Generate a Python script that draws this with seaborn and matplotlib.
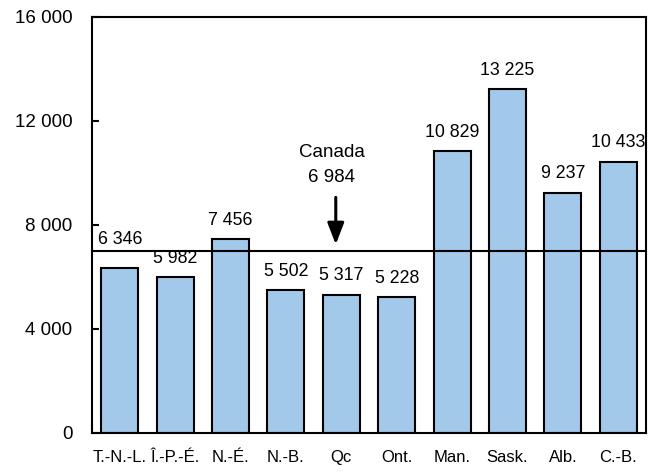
import pandas as pd
import seaborn as sns
import matplotlib.pyplot as plt

provinces = ["T.-N.-L.", "Î.-P.-É.", "N.-É.", "N.-B.", "Qc", "Ont.", "Man.", "Sask.", "Alb.", "C.-B."]
values = [6346, 5982, 7456, 5502, 5317, 5228, 10829, 13225, 9237, 10433]
canada = 6984
yticks = [0, 4000, 8000, 12000, 16000]

df = pd.DataFrame({"province": provinces, "value": values})

sns.set_style("white")
plt.rcParams["font.family"] = ["Liberation Sans", "DejaVu Sans"]
plt.rcParams["text.color"] = "black"
plt.rcParams["xtick.color"] = "black"
plt.rcParams["ytick.color"] = "black"

fig = plt.figure(figsize=(6.53, 4.73), dpi=100)
ax = fig.add_axes([0.1409, 0.0846, 0.8484, 0.8795])

sns.barplot(data=df, x="province", y="value", color="#a3c9ea", saturation=1,
            width=0.67, edgecolor="black", linewidth=1.5, ax=ax)

ax.axhline(canada, color="black", lw=1.5, zorder=3)

def fmt(v):
    return f"{v:,}".replace(",", " ")

for i, v in enumerate(values):
    off = 14.5 if i == 0 else 7.5
    ax.annotate(fmt(v), (i, v), xytext=(0, off), textcoords="offset points",
                ha="center", va="bottom", fontsize=12.8)

ax.text(3.83, 10800, "Canada", ha="center", va="center", fontsize=13.5)
ax.text(3.83, 9820, fmt(canada), ha="center", va="center", fontsize=13.5)
ax.annotate("", xy=(3.9, 7250), xytext=(3.9, 9060),
            arrowprops=dict(arrowstyle="-|>,head_width=0.5,head_length=1.3",
                            color="black", lw=2.2, shrinkA=0, shrinkB=0))

ax.set_xlim(-0.5, 9.5)
ax.set_ylim(0, 16000)
ax.set_yticks(yticks)
ax.set_yticklabels([fmt(t) for t in yticks], fontsize=13.5)
ax.set_xlabel("")
ax.set_ylabel("")
ax.tick_params(axis="y", direction="in", length=5, width=1.5, left=True, pad=14)
ax.tick_params(axis="x", length=0, pad=12.5)
for lab in ax.get_xticklabels():
    lab.set_fontsize(12)
for s in ax.spines.values():
    s.set_linewidth(1.5)
    s.set_color("black")

plt.savefig("out.png", dpi=100)
